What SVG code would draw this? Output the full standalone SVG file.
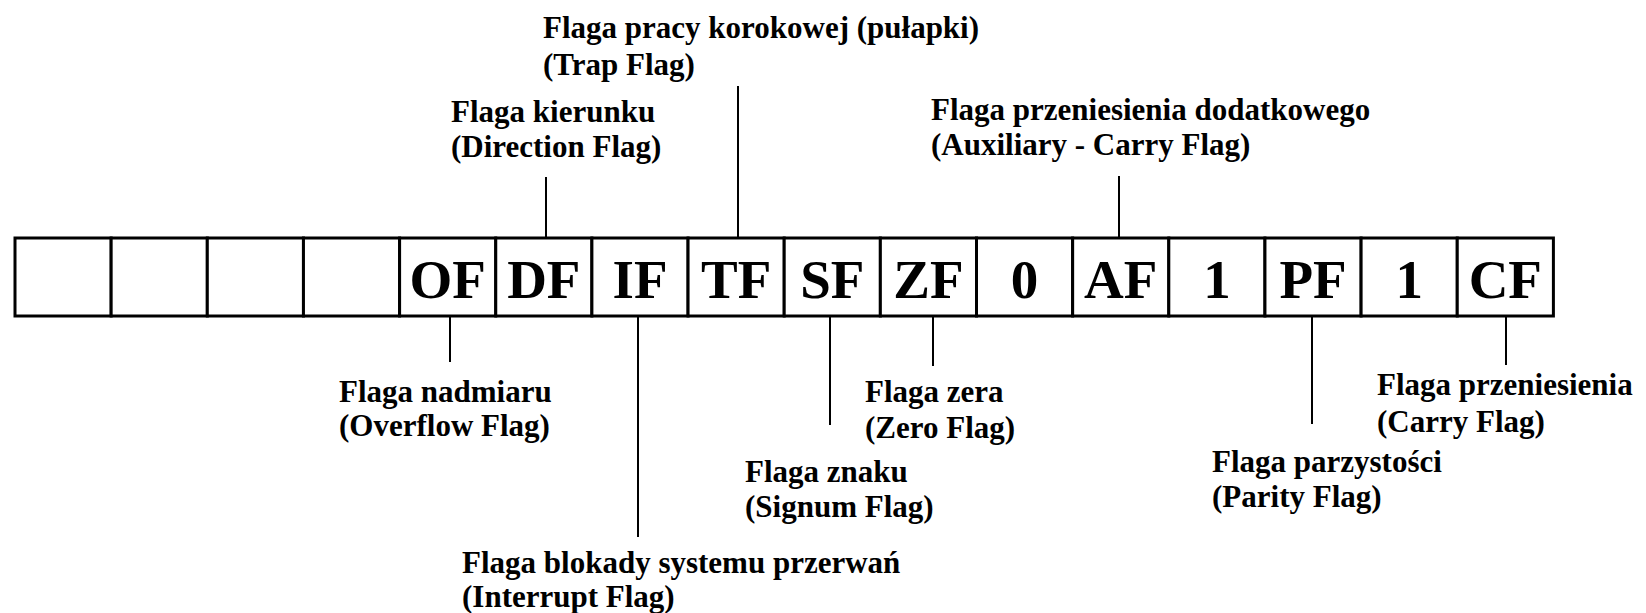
<svg xmlns="http://www.w3.org/2000/svg" width="1646" height="613" viewBox="0 0 1646 613">
<style>
.cell{fill:#fff;stroke:#000;stroke-width:3}
.ct{font-family:"Liberation Serif","Times New Roman",serif;font-weight:bold;font-size:55px;text-anchor:middle;fill:#000}
.lb{font-family:"Liberation Serif","Times New Roman",serif;font-weight:bold;font-size:31px;fill:#000}
.conn line{stroke:#000;stroke-width:2}
</style>
<rect width="1646" height="613" fill="#fff"/>
<g id="register">
<g id="c0"><rect class="cell" x="15" y="238" width="96.15" height="78"/></g>
<g id="c1"><rect class="cell" x="111.15" y="238" width="96.15" height="78"/></g>
<g id="c2"><rect class="cell" x="207.3" y="238" width="96.15" height="78"/></g>
<g id="c3"><rect class="cell" x="303.45" y="238" width="96.15" height="78"/></g>
<g id="OF"><rect class="cell" x="399.6" y="238" width="96.15" height="78"/><text class="ct" x="447.7" y="298">OF</text></g>
<g id="DF"><rect class="cell" x="495.75" y="238" width="96.15" height="78"/><text class="ct" x="543.8" y="298">DF</text></g>
<g id="IF"><rect class="cell" x="591.9" y="238" width="96.15" height="78"/><text class="ct" x="640" y="298">IF</text></g>
<g id="TF"><rect class="cell" x="688.05" y="238" width="96.15" height="78"/><text class="ct" x="736.1" y="298">TF</text></g>
<g id="SF"><rect class="cell" x="784.2" y="238" width="96.15" height="78"/><text class="ct" x="832.3" y="298">SF</text></g>
<g id="ZF"><rect class="cell" x="880.35" y="238" width="96.15" height="78"/><text class="ct" x="928.4" y="298">ZF</text></g>
<g id="b10"><rect class="cell" x="976.5" y="238" width="96.15" height="78"/><text class="ct" x="1024.6" y="298">0</text></g>
<g id="AF"><rect class="cell" x="1072.65" y="238" width="96.15" height="78"/><text class="ct" x="1120.7" y="298">AF</text></g>
<g id="b12"><rect class="cell" x="1168.8" y="238" width="96.15" height="78"/><text class="ct" x="1216.9" y="298">1</text></g>
<g id="PF"><rect class="cell" x="1264.95" y="238" width="96.15" height="78"/><text class="ct" x="1313" y="298">PF</text></g>
<g id="b14"><rect class="cell" x="1361.1" y="238" width="96.15" height="78"/><text class="ct" x="1409.2" y="298">1</text></g>
<g id="CF"><rect class="cell" x="1457.25" y="238" width="96.15" height="78"/><text class="ct" x="1505.3" y="298">CF</text></g>
</g>
<g id="connectors" class="conn">
<line x1="546" y1="177" x2="546" y2="238"/>
<line x1="738" y1="86" x2="738" y2="238"/>
<line x1="1119" y1="176" x2="1119" y2="238"/>
<line x1="450" y1="316" x2="450" y2="362"/>
<line x1="638" y1="316" x2="638" y2="537"/>
<line x1="830" y1="316" x2="830" y2="425"/>
<line x1="933" y1="316" x2="933" y2="366"/>
<line x1="1312" y1="316" x2="1312" y2="424"/>
<line x1="1506" y1="316" x2="1506" y2="365"/>
</g>
<g id="lbl-trap" class="lb"><text x="543" y="38">Flaga pracy korokowej (pułapki)</text><text x="543" y="75">(Trap Flag)</text></g>
<g id="lbl-direction" class="lb"><text x="451" y="122">Flaga kierunku</text><text x="451" y="157">(Direction Flag)</text></g>
<g id="lbl-aux" class="lb"><text x="931" y="120">Flaga przeniesienia dodatkowego</text><text x="931" y="155">(Auxiliary - Carry Flag)</text></g>
<g id="lbl-overflow" class="lb"><text x="339" y="402">Flaga nadmiaru</text><text x="339" y="436">(Overflow Flag)</text></g>
<g id="lbl-zero" class="lb"><text x="865" y="402">Flaga zera</text><text x="865" y="438">(Zero Flag)</text></g>
<g id="lbl-signum" class="lb"><text x="745" y="482">Flaga znaku</text><text x="745" y="517">(Signum Flag)</text></g>
<g id="lbl-interrupt" class="lb"><text x="462" y="573">Flaga blokady systemu przerwań</text><text x="462" y="607">(Interrupt Flag)</text></g>
<g id="lbl-parity" class="lb"><text x="1212" y="472">Flaga parzystości</text><text x="1212" y="507">(Parity Flag)</text></g>
<g id="lbl-carry" class="lb"><text x="1377" y="395">Flaga przeniesienia</text><text x="1377" y="432">(Carry Flag)</text></g>
</svg>
